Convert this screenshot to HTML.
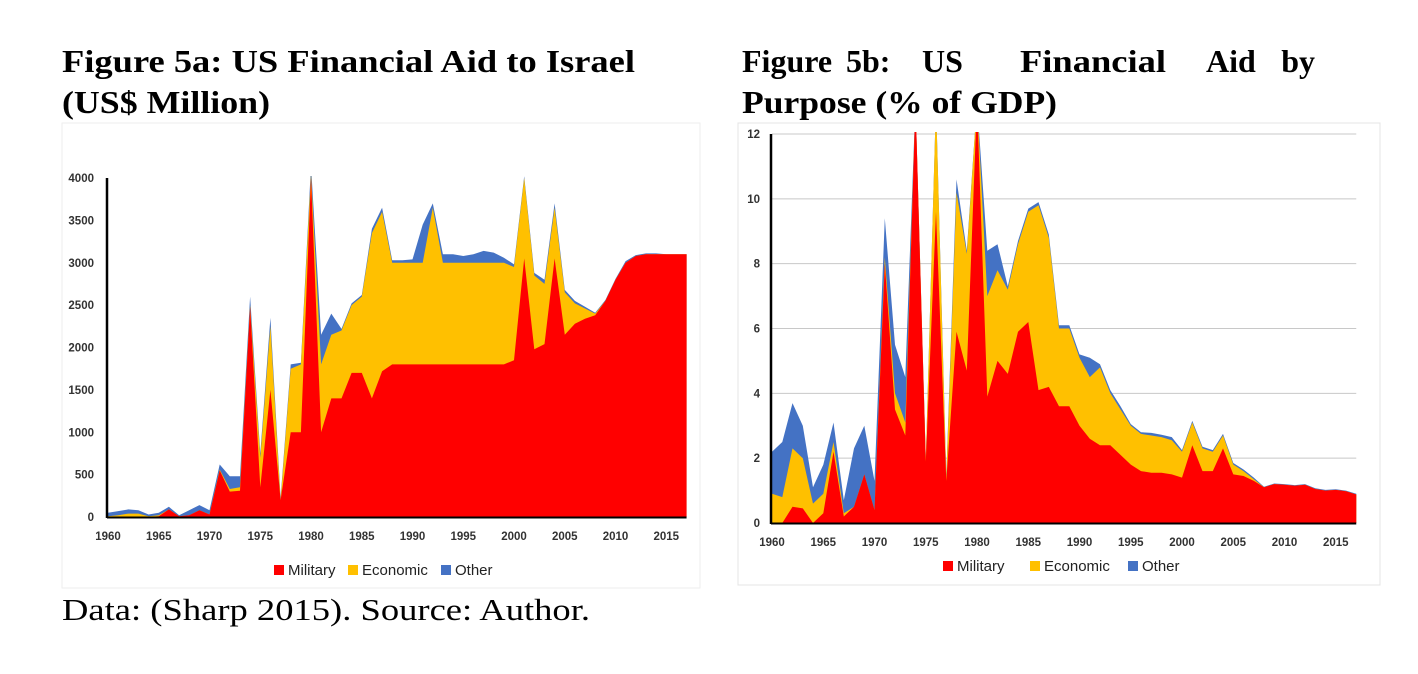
<!DOCTYPE html>
<html><head><meta charset="utf-8"><style>
html,body{margin:0;padding:0;background:#fff;width:1418px;height:674px;overflow:hidden}
svg{display:block}
.t{font-family:"Liberation Serif",serif;font-weight:bold;font-size:32px;fill:#000}
.tick{font-family:"Liberation Sans",sans-serif;font-size:11.5px;font-weight:bold;fill:#333}
.leg{font-family:"Liberation Sans",sans-serif;font-size:15px;fill:#222}
</style></head><body>
<svg id="s" width="1418" height="674">
<defs>
<clipPath id="cA"><rect x="108" y="176" width="580" height="342"/></clipPath>
<clipPath id="cB"><rect x="772" y="132" width="590" height="392"/></clipPath>
</defs>
<text class="t" x="62" y="72" textLength="573" lengthAdjust="spacingAndGlyphs">Figure 5a: US Financial Aid to Israel</text>
<text class="t" x="62" y="113" textLength="208" lengthAdjust="spacingAndGlyphs">(US$ Million)</text>
<g>
<text class="t" x="742" y="72">Figure</text>
<text class="t" x="846" y="72">5b:</text>
<text class="t" x="922" y="72">US</text>
<text class="t" x="1020" y="72" textLength="146" lengthAdjust="spacingAndGlyphs">Financial</text>
<text class="t" x="1206" y="72">Aid</text>
<text class="t" x="1315" y="72" text-anchor="end">by</text>
<text class="t" x="742" y="113" textLength="315" lengthAdjust="spacingAndGlyphs">Purpose (% of GDP)</text>
</g>
<text x="62" y="620" textLength="528" lengthAdjust="spacingAndGlyphs" style="font-family:'Liberation Serif',serif;font-size:31px">Data: (Sharp 2015). Source: Author.</text>
<rect x="62" y="123" width="638" height="465" fill="none" stroke="#eee"/>
<rect x="738" y="123" width="642" height="462" fill="none" stroke="#e4e4e4"/>
<g id="A"></g>
<g id="B"></g>
</svg>
<script>
const years=[];for(let y=1960;y<=2017;y++)years.push(y);
// Chart A (US$ million)
const aMil=[0,0,0,0,0,10,90,10,20,80,30,550,300,310,2480,350,1500,200,1000,1000,4000,1000,1400,1400,1700,1700,1400,1720,1800,1800,1800,1800,1800,1800,1800,1800,1800,1800,1800,1800,1850,3050,1980,2040,3050,2150,2280,2340,2380,2550,2800,3000,3080,3100,3100,3100,3100,3100];
const aEco=[10,20,40,40,10,10,0,0,0,0,0,10,30,40,20,350,750,0,750,800,50,800,750,800,800,900,1950,1880,1200,1200,1200,1200,1850,1200,1200,1200,1200,1200,1200,1200,1100,950,870,710,600,500,240,120,20,0,0,0,0,0,0,0,0,0];
const aOth=[40,50,50,40,20,30,30,10,60,60,50,60,150,130,100,50,100,30,50,20,100,350,250,20,20,20,50,50,30,30,40,450,50,100,100,80,100,140,120,60,30,20,30,50,50,30,30,20,10,10,10,20,10,10,10,0,0,0];
const aTicks=[0,500,1000,1500,2000,2500,3000,3500,4000];
// Chart B (% of GDP)
const bMil=[0,0,0.5,0.45,0,0.3,2.2,0.2,0.5,1.5,0.4,8.0,3.5,2.7,13,1.9,9.6,1.3,5.9,4.7,13,3.9,5.0,4.6,5.9,6.2,4.1,4.2,3.6,3.6,3.0,2.6,2.4,2.4,2.1,1.8,1.6,1.55,1.55,1.5,1.4,2.4,1.6,1.6,2.3,1.5,1.45,1.3,1.1,1.2,1.18,1.15,1.18,1.05,1.0,1.02,0.98,0.88];
const bEco=[0.9,0.8,1.8,1.55,0.6,0.6,0.3,0.1,0,0,0,0.2,0.5,0.4,0,0.1,3.4,0.1,4.3,3.6,0,3.1,2.8,2.6,2.7,3.4,5.7,4.6,2.4,2.4,2.1,1.9,2.4,1.6,1.4,1.2,1.15,1.15,1.1,1.05,0.8,0.7,0.7,0.6,0.4,0.3,0.15,0.05,0,0,0,0,0,0,0,0,0,0];
const bOth=[1.3,1.7,1.4,1.0,0.5,0.9,0.6,0.4,1.8,1.5,0.9,1.2,1.5,1.4,0,0,0,0.1,0.4,0.1,0,1.4,0.8,0.1,0.1,0.1,0.1,0.1,0.1,0.1,0.1,0.6,0.1,0.1,0.1,0.05,0.05,0.08,0.07,0.1,0.05,0.05,0.05,0.05,0.05,0.05,0.05,0.05,0.02,0.02,0.02,0.02,0.02,0.02,0.02,0.02,0.02,0.02];
const bTicks=[0,2,4,6,8,10,12];
const yearTicks=[1960,1965,1970,1975,1980,1985,1990,1995,2000,2005,2010,2015];
const NS='http://www.w3.org/2000/svg';
const COLS=['#ff0000','#ffc000','#4472c4'];
const NAMES=['military','economic','other'];
function mk(t,a,p){const e=document.createElementNS(NS,t);for(const k in a)e.setAttribute(k,a[k]);p.appendChild(e);return e;}
function draw(g,cfg){
  const xs=y=>cfg.x0+(y-1960)*cfg.xs;
  const ys=v=>cfg.y0-v*cfg.ysc;
  const xEnd=xs(2017);
  if(cfg.grid){cfg.ticks.forEach(t=>{if(t>0){const l=mk('line',{x1:cfg.x0,x2:xEnd,y1:ys(t),y2:ys(t),stroke:'#c8c8c8','stroke-width':1},g);
    
    }});}
  const series=[cfg.m,cfg.e,cfg.o];
  const cum=years.map(()=>0);
  const layers=[];
  series.forEach((s,i)=>{const lo=cum.slice();s.forEach((v,j)=>cum[j]+=v);layers.push([lo,cum.slice()]);});
  const area=mk('g',{'clip-path':'url(#'+cfg.clip+')'},g);
  for(let i=2;i>=0;i--){
    const hi=layers[i][1];
    let d='M'+xs(1960)+','+ys(0);
    years.forEach((y,j)=>{d+='L'+xs(y).toFixed(1)+','+ys(hi[j]).toFixed(1);});
    d+='L'+xEnd+','+ys(0)+'Z';
    const p=mk('path',{d:d,fill:COLS[i]},area);
    
    
  }
  const ax=mk('line',{x1:cfg.x0-1,x2:cfg.x0-1,y1:ys(cfg.ticks[cfg.ticks.length-1]),y2:ys(0)+1,stroke:'#000','stroke-width':2.5},g);
  
  
  const bx=mk('line',{x1:cfg.x0-1,x2:xEnd,y1:ys(0)+0.5,y2:ys(0)+0.5,stroke:'#000','stroke-width':2},g);
  
  
  cfg.ticks.forEach(t=>{const e=mk('text',{x:cfg.lx,y:ys(t)+4,'text-anchor':'end',class:'tick'},g);e.textContent=t;
    
    });
  yearTicks.forEach(y=>{const e=mk('text',{x:xs(y),y:cfg.yl,'text-anchor':'middle',class:'tick'},g);e.textContent=y;
    
    });
  ['Military','Economic','Other'].forEach((n,i)=>{const lg=mk('g',{},g);
    
    
    mk('rect',{x:cfg.leg[i],y:cfg.legY-5,width:10,height:10,fill:COLS[i]},lg);
    const e=mk('text',{x:cfg.leg[i]+14,y:cfg.legY+5,class:'leg'},lg);e.textContent=n;});
}
draw(document.getElementById('A'),{x0:108,xs:10.15,y0:517,ysc:339/4000,m:aMil,e:aEco,o:aOth,ticks:aTicks,lx:94,yl:540,clip:'cA',leg:[274,348,441],legY:570,grid:false});
draw(document.getElementById('B'),{x0:772,xs:10.25,y0:523,ysc:389/12,m:bMil,e:bEco,o:bOth,ticks:bTicks,lx:760,yl:546,clip:'cB',leg:[943,1030,1128],legY:566,grid:true});
</script>
</body></html>
